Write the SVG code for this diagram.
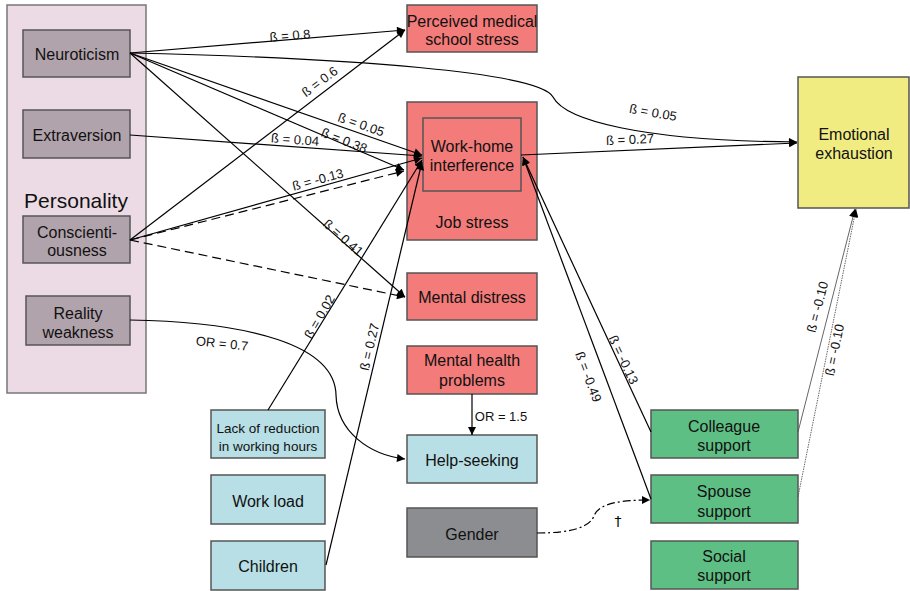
<svg xmlns="http://www.w3.org/2000/svg" width="910" height="591" viewBox="0 0 910 591">
<defs>
<marker id="arr" viewBox="0 0 10 10" refX="10" refY="5" markerWidth="10" markerHeight="8" markerUnits="userSpaceOnUse" orient="auto">
<path d="M0,0 L10,5 L0,10 z" fill="#000"/>
</marker>
<style>
.box{stroke:#555;stroke-width:1.5}
.pers{fill:#ecdbe4;stroke:#777;stroke-width:1.5}
.mauve{fill:#b1a3ac}
.red{fill:#f37b79}
.blue{fill:#b8dfe5}
.green{fill:#5ebf84}
.yellow{fill:#f0ec82}
.gray{fill:#8b8d90}
text{font-family:"Liberation Sans",Arial,sans-serif;fill:#111}
.t{font-size:16px;text-anchor:middle}
.ts{font-size:13.5px;text-anchor:middle}
.lbl{font-size:13px;text-anchor:middle}
.ln{fill:none;stroke:#000;stroke-width:1.2}
.dash{stroke-dasharray:9,5}
.thin{fill:none;stroke:#555;stroke-width:0.9}
</style>
</defs>

<g id="personality">
<rect class="pers" x="7" y="5" width="139" height="388"/>
<text x="76" y="208" style="font-size:21px;text-anchor:middle">Personality</text>
</g>
<g id="neuroticism"><rect class="box mauve" x="23" y="30" width="107" height="47"/><text class="t" x="77" y="59.5">Neuroticism</text></g>
<g id="extraversion"><rect class="box mauve" x="23" y="110" width="107" height="48"/><text class="t" x="77" y="141">Extraversion</text></g>
<g id="conscientiousness"><rect class="box mauve" x="23" y="216" width="107" height="47"/><text class="t" x="77" y="238">Conscienti-</text><text class="t" x="77" y="256">ousness</text></g>
<g id="reality"><rect class="box mauve" x="26" y="296" width="104" height="49"/><text class="t" x="78" y="319">Reality</text><text class="t" x="78" y="338">weakness</text></g>

<g id="perceived"><rect class="box red" x="407" y="5" width="130" height="47"/><text class="t" x="472" y="27">Perceived medical</text><text class="t" x="472" y="45">school stress</text></g>
<g id="jobstress"><rect class="box red" x="407" y="102" width="130" height="138"/><text class="t" x="472" y="228">Job stress</text></g>
<g id="workhome"><rect class="box red" x="423" y="118" width="98" height="73"/><text class="t" x="472" y="152">Work-home</text><text class="t" x="472" y="171">interference</text></g>
<g id="mentaldistress"><rect class="box red" x="407" y="273" width="130" height="47"/><text class="t" x="472" y="303">Mental distress</text></g>
<g id="mentalhealth"><rect class="box red" x="407" y="346" width="130" height="48"/><text class="t" x="472" y="366">Mental health</text><text class="t" x="472" y="386">problems</text></g>
<g id="helpseeking"><rect class="box blue" x="407" y="435" width="130" height="48"/><text class="t" x="472" y="466">Help-seeking</text></g>
<g id="gender"><rect class="box gray" x="407" y="508" width="130" height="49"/><text class="t" x="472" y="540">Gender</text></g>

<g id="lackreduction"><rect class="box blue" x="211" y="410" width="114" height="48"/><text class="ts" x="268" y="433">Lack of reduction</text><text class="ts" x="268" y="451">in working hours</text></g>
<g id="workload"><rect class="box blue" x="211" y="475" width="114" height="49"/><text class="t" x="268" y="507">Work load</text></g>
<g id="children"><rect class="box blue" x="211" y="541" width="114" height="49"/><text class="t" x="268" y="572">Children</text></g>

<g id="emotional"><rect class="box yellow" x="798" y="77" width="111" height="131"/><text class="t" x="854" y="140">Emotional</text><text class="t" x="854" y="159">exhaustion</text></g>

<g id="colleague"><rect class="box green" x="651" y="410" width="147" height="48"/><text class="t" x="724" y="432">Colleague</text><text class="t" x="724" y="451">support</text></g>
<g id="spouse"><rect class="box green" x="651" y="475" width="147" height="48"/><text class="t" x="724" y="497">Spouse</text><text class="t" x="724" y="517">support</text></g>
<g id="social"><rect class="box green" x="651" y="541" width="147" height="48"/><text class="t" x="724" y="562">Social</text><text class="t" x="724" y="581">support</text></g>

<g id="connectors">
<path class="ln" d="M130,53 L405,30" marker-end="url(#arr)"/>
<path class="ln" d="M130,53 C350,58 540,72 553,97 C565,120 640,141 797,142" marker-end="url(#arr)"/>
<path class="ln" d="M130,53 L422,155" marker-end="url(#arr)"/>
<path class="ln" d="M130,53 L404,170" marker-end="url(#arr)"/>
<path class="ln" d="M130,53 L405,297" marker-end="url(#arr)"/>
<path class="ln" d="M130,135 L422,156" marker-end="url(#arr)"/>
<path class="ln" d="M130,240 L405,30" marker-end="url(#arr)"/>
<path class="ln" d="M130,240 L422,158" marker-end="url(#arr)"/>
<path class="ln dash" d="M130,240 L404,171" marker-end="url(#arr)"/>
<path class="ln dash" d="M130,240 L405,297" marker-end="url(#arr)"/>
<path class="ln" d="M130,320 C250,322 335,345 336,395 C337,432 370,455 405,459" marker-end="url(#arr)"/>
<path class="ln" d="M268,410 L422,160" marker-end="url(#arr)"/>
<path class="ln" d="M326,565 L422,162" marker-end="url(#arr)"/>
<path class="ln" d="M472,394 L472,435" marker-end="url(#arr)"/>
<path class="ln" d="M521,155 L797,143" marker-end="url(#arr)"/>
<path class="ln" d="M651,432 L523,157" marker-end="url(#arr)"/>
<path class="ln" d="M651,499 L523,157" marker-end="url(#arr)"/>
<path class="ln" d="M537,533 C575,533 590,526 594,516 C599,502 625,500 650,500" stroke-dasharray="8,3,2,3" marker-end="url(#arr)"/>
<path class="thin" d="M798,432 L855,209" marker-end="url(#arr)"/>
<path class="thin" d="M798,497 L856,209" stroke-dasharray="1.5,1" marker-end="url(#arr)"/>

<text class="lbl" x="290" y="40" transform="rotate(-4.8 290 36)">ß = 0.8</text>
<text class="lbl" x="320" y="86" transform="rotate(-37 320 82)">ß = 0.6</text>
<text class="lbl" x="361" y="129" transform="rotate(19 361 125)">ß = 0.05</text>
<text class="lbl" x="344" y="145" transform="rotate(21 344 141)">ß = 0.38</text>
<text class="lbl" x="295" y="144" transform="rotate(3.9 295 140)">ß = 0.04</text>
<text class="lbl" x="318" y="184" transform="rotate(-15 318 180)">ß = -0.13</text>
<text class="lbl" x="343" y="242" transform="rotate(41 343 238)">ß = 0.41</text>
<text class="lbl" x="320" y="321" transform="rotate(-60 320 317)">ß = 0.02</text>
<text class="lbl" x="370" y="351" transform="rotate(-77 370 347)">ß = 0.27</text>
<text class="lbl" x="222" y="348" transform="rotate(6 222 344)">OR = 0.7</text>
<text class="lbl" x="501" y="421">OR = 1.5</text>
<text class="lbl" x="630" y="144" transform="rotate(-2.5 630 140)">ß = 0.27</text>
<text class="lbl" x="653" y="117" transform="rotate(10 653 113)">ß = 0.05</text>
<text class="lbl" x="623" y="364" transform="rotate(65 623 360)">ß = -0.13</text>
<text class="lbl" x="588" y="381" transform="rotate(69.5 588 377)">ß = -0.49</text>
<text class="lbl" x="818" y="311" transform="rotate(-75.5 818 307)">ß = -0.10</text>
<text class="lbl" x="835" y="354" transform="rotate(-78.7 835 350)">ß = -0.10</text>
<text x="618" y="526" style="font-family:'DejaVu Sans',sans-serif;font-size:14px;fill:#000;text-anchor:middle">†</text>
</g>
</svg>
